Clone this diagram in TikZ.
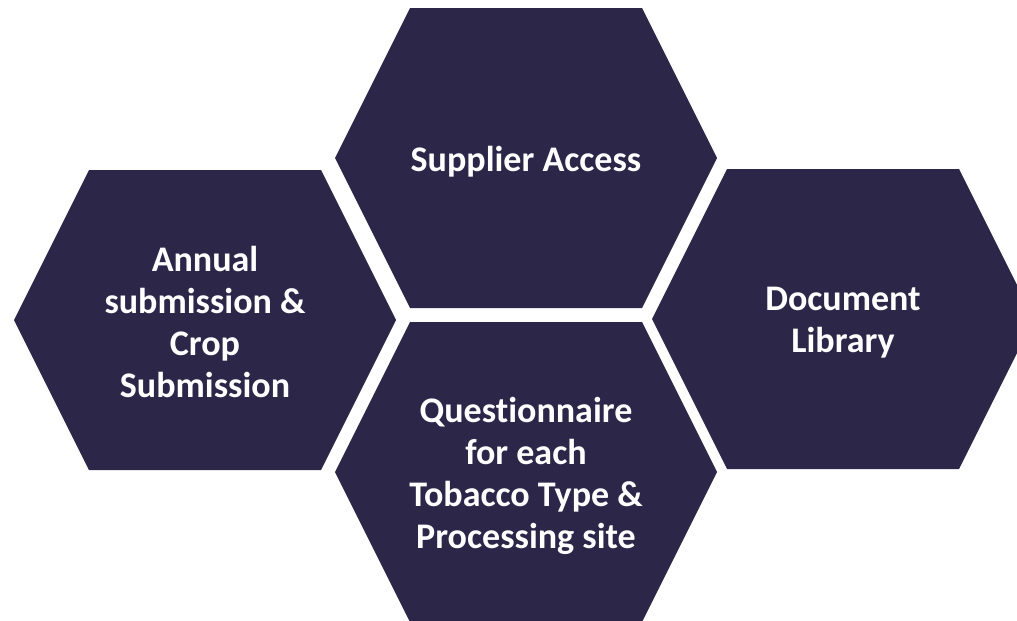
\documentclass[tikz,border=0pt]{standalone}
\usepackage{fontspec}
\setmainfont[Ligatures=NoCommon]{Carlito}
\usetikzlibrary{positioning}
\definecolor{hexnavy}{RGB}{44,38,72}

\begin{document}
\begin{tikzpicture}[x=0.02cm,y=-0.02cm]
			\clip (0,0) rectangle (1017,620);
			\foreach \cx/\cy in {526/158, 205/320, 843/319, 526/472}
				\fill[hexnavy] (\cx-191,\cy) -- ++(75,-150) -- ++(232,0) -- ++(75,150)
					-- ++(-75,150) -- ++(-232,0) -- cycle;

			\begin{scope}[every node/.style={text=white,align=center,
				font=\bfseries\fontsize{20.5}{24}\selectfont}]
				\node (access) at (526,162) {Supplier Access};
				\node (annual) at (205,322) {Annual\\submission \&\\Crop\\Submission};
				\node (library) at (843,323) {Document\\Library};
				\node (quest) at (526,476) {Questionnaire\\for each\\Tobacco Type \&\\Processing site};
			\end{scope}
		\end{tikzpicture}
\end{document}
